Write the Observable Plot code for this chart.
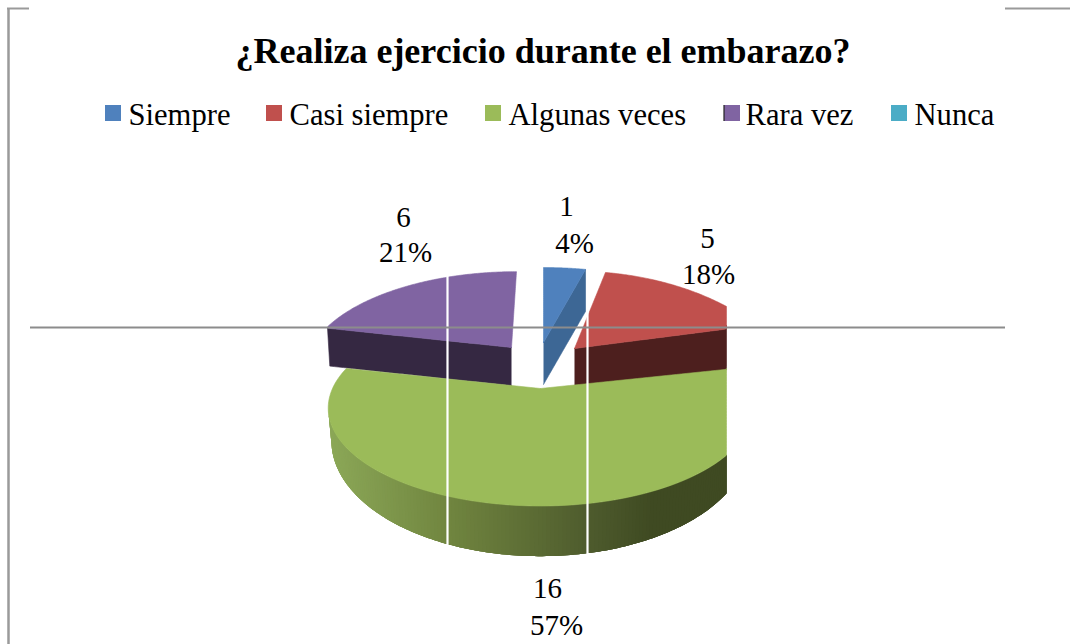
<!DOCTYPE html>
<html><head><meta charset="utf-8">
<script src="https://cdn.jsdelivr.net/npm/d3@7"></script>
<script src="https://cdn.jsdelivr.net/npm/@observablehq/plot@0.6"></script>
<style>html,body{margin:0;padding:0;background:#fff}svg{display:block}</style>
</head><body><div id="chart"></div>
<script>
const chartTitle = "¿Realiza ejercicio durante el embarazo?";
const categories = ["Siempre","Casi siempre","Algunas veces","Rara vez","Nunca"];
const values = [1,5,16,6,0];
const colors = ["#4f81bd","#c0504d","#9bbb59","#8064a2","#4bacc6"];
const sideColors = ["#3d6795","#4d1f1e","#3f4a22","#352842","#4bacc6"];

const W=1070,H=644,CLIPL=327,CLIPR=726;
const total=d3.sum(values);
const arcs=d3.pie().sort(null).startAngle(0).endAngle(2*Math.PI)(values);
// exploded, perspective-flattened placement of each slice
const geom=[
 {cx:543,cy:342,rx:189,ry:75,p:0,sx:0,d:42},
 {cx:574,cy:348,rx:207,ry:116,p:.5,sx:0,d:41},
 {cx:540,cy:388,rx:208,ry:94,p:.2,sx:0,d:29,sy:1.18,sc:.985},
 {cx:511,cy:347,rx:200,ry:91,p:.2,sx:6,d:38,sc:.98}
];
const clampX=x=>Math.max(CLIPL,Math.min(CLIPR,x));
function pt(g,t){const u=Math.sin(t),v=Math.cos(t),w=1+g.p*v;return [g.cx+(g.rx*u+g.sx*v)/w,g.cy-g.ry*v/w];}
function low(g,[x,y]){return [g.cx+(x-g.cx)*(g.sc||1),g.cy+(y-g.cy)*(g.sy||1)+g.d];}
const N=120;
function arcPts(g,a,b){return d3.range(N+1).map(i=>pt(g,a+(b-a)*i/N));}
function edge(g,p){return d3.range(41).map(i=>[g.cx+(p[0]-g.cx)*i/40,g.cy+(p[1]-g.cy)*i/40]);}
const polys=[],rim=[],front=[];
let nextId=0;
function add(points,fill,list=polys){const id=nextId++;
  points.forEach(p=>list.push({id,x:clampX(p[0]),y:p[1],fill}));}

function radialSide(i,angle){const g=geom[i],e=edge(g,pt(g,angle));
  add([...e,...e.slice().reverse().map(p=>low(g,p))],sideColors[i]);}
function topFace(i,list){const g=geom[i],a=arcs[i];
  const r=arcPts(g,a.startAngle,a.endAngle);
  add([...edge(g,r[0]),...r,...edge(g,r[N]).reverse()],colors[i],list);}

// back slices
radialSide(3,arcs[3].startAngle); topFace(3);
radialSide(1,arcs[1].endAngle); topFace(1);
radialSide(0,arcs[0].endAngle); topFace(0);
// front slice: shaded rim, each strip overlapped by the next
const shade=d3.scaleLinear().domain([330,447,587,650,730]).range(["#8ba757","#70853f","#4e5b2d","#3f4a22","#3f4a22"]);
{const g=geom[2],a0=Math.PI*1.5-0.2,a1=arcs[2].startAngle;
 const S=200,step=(a1-a0)/S;
 for(let i=0;i<S;i++){
  const t0=a0+step*i,t1=Math.max(a1,t0+step*4);
  const p0=pt(g,t0);
  const m=[0,1,2,3,4].map(k=>pt(g,t0+(t1-t0)*k/4));
  add([...m,...m.slice().reverse().map(p=>low(g,p))],shade(p0[0]),rim);
 }
}
topFace(2,front);

const fmtPct=v=>Math.round(v/total*100)+"%";
// label anchor positions
const valPos=[[566,206],[707,238],[547,588],[403,217]];
const pctPos=[[574,243],[708,274],[556,625],[405,252]];
const labels=[];
values.forEach((v,i)=>{ if(v>0){
  labels.push({x:valPos[i][0],y:valPos[i][1],t:String(v)});
  labels.push({x:pctPos[i][0],y:pctPos[i][1],t:fmtPct(v)});
}});
const swatchX=[105,266,485,724,891];
const textX=[128,289,508,745,914];
const legend=categories.map((c,i)=>({c,i,color:colors[i],x:swatchX[i],tx:textX[i]}));

const grey="#9a9a9a";
const font="'Liberation Serif','Times New Roman',serif";
const chart=Plot.plot({
  width:W,height:H,margin:0,
  style:{background:"#fff",fontFamily:font},
  x:{domain:[0,W],range:[0,W],axis:null},
  y:{domain:[0,H],range:[0,H],axis:null},
  color:{type:"identity"},
  marks:[
    Plot.line(polys,{x:"x",y:"y",z:"id",fill:"fill",stroke:"fill",strokeWidth:.6,curve:"linear"}),
    Plot.line(rim,{x:"x",y:"y",z:"id",fill:"fill",stroke:null,curve:"linear"}),
    Plot.line(front,{x:"x",y:"y",z:"id",fill:"fill",stroke:"fill",strokeWidth:.6,curve:"linear"}),
    Plot.ruleX([447,587],{y1:262,y2:556,stroke:"#fff",strokeWidth:2.2}),
    Plot.ruleY([327],{x1:30,x2:1005,stroke:"#8c8c8c",strokeWidth:2}),
    Plot.ruleX([8],{y1:8,y2:H,stroke:grey,strokeWidth:2.5}),
    Plot.ruleY([8],{x1:7,x2:29,stroke:grey,strokeWidth:2}),
    Plot.ruleY([8],{x1:1005,x2:W,stroke:grey,strokeWidth:2}),
    Plot.text([chartTitle],{x:542.5,y:51,text:d=>d,fontSize:36,fontWeight:"bold",fill:"#000"}),
    Plot.rect(legend,{x1:"x",x2:d=>d.x+16,y1:()=>105,y2:()=>121,fill:"color"}),
    Plot.ruleX([723.5],{y1:105,y2:121,stroke:"#222",strokeWidth:1.2}),
    Plot.text(legend,{x:"tx",y:()=>115,text:"c",textAnchor:"start",fontSize:30.6,fill:"#000"}),
    Plot.text(labels,{x:"x",y:"y",text:"t",fontSize:29,fill:"#000"})
  ]
});
document.getElementById("chart").append(chart);
</script></body></html>
